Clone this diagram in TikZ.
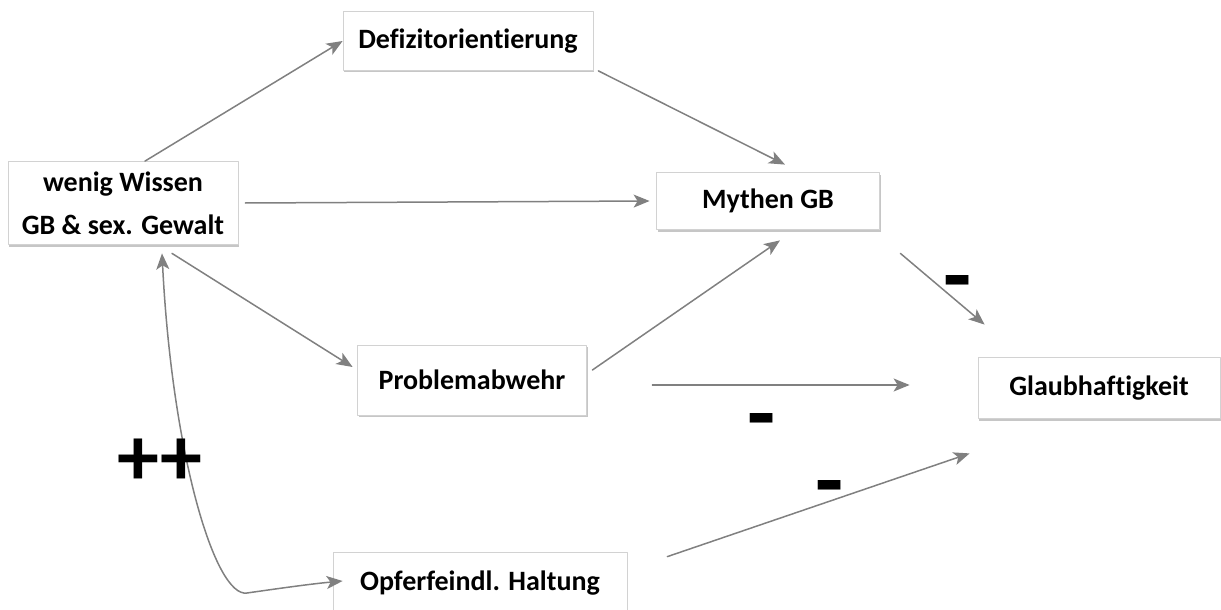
\documentclass[tikz,border=0pt]{standalone}
\usepackage{fontspec}
\setmainfont{Carlito}[Ligatures=NoCommon]
\usetikzlibrary{arrows.meta,shadows}
\begin{document}
\begin{tikzpicture}[x=0.5pt,y=0.5pt,line join=round,line cap=round,
    font=\fontsize{14}{21.5}\selectfont\bfseries,
    box/.style={draw=gray!35,line width=0.4pt,fill=white,inner sep=0pt,align=center,
        drop shadow={shadow xshift=0.5pt,shadow yshift=-1pt,opacity=0.45,fill=gray}},
    pfeil/.style={draw=gray,line width=0.75pt,-{Stealth[length=8pt,width=6.5pt,inset=2pt]}},
    zeichen/.style={font=\fontsize{46}{46}\selectfont\bfseries,inner sep=0pt}]
    \useasboundingbox (0,0) rectangle (1221,-610);
    % Kaesten
    \node[box,minimum width=125pt,minimum height=29.5pt] (defizit) at (468,-41) {Defizitorientierung};
    \node[box,minimum width=115pt,minimum height=41.5pt] (wissen) at (123,-203) {wenig Wissen\\GB \& sex. Gewalt};
    \node[box,minimum width=111.5pt,minimum height=28.5pt] (mythen) at (768,-201) {Mythen GB};
    \node[box,minimum width=114.5pt,minimum height=35pt] (abwehr) at (472,-380) {Problemabwehr};
    \node[box,minimum width=121pt,minimum height=30.5pt] (glaub) at (1099,-388) {Glaubhaftigkeit};
    \node[box,minimum width=147pt,minimum height=31pt] (opfer) at (480,-583) {Opferfeindl. Haltung};
    % Pfeile
    \draw[pfeil] ([xshift=11pt]wissen.north) -- (defizit.west);
    \draw[pfeil] ([xshift=2.5pt]defizit.south east) -- ([xshift=8.5pt,yshift=3.75pt]mythen.north);
    \draw[pfeil] ([xshift=3.5pt]wissen.east) -- ([xshift=-3.25pt]mythen.west);
    \draw[pfeil] ([xshift=24.5pt,yshift=-4.25pt]wissen.south) -- ([xshift=-2.25pt,yshift=6.5pt]abwehr.west);
    \draw[pfeil] ([xshift=2.75pt,yshift=5pt]abwehr.east) -- ([xshift=6pt,yshift=-5.25pt]mythen.south);
    \draw[pfeil] ([xshift=10.25pt,yshift=-11.75pt]mythen.south east) -- ([xshift=3.5pt,yshift=16.25pt]glaub.north west);
    \draw[pfeil] ([xshift=32.75pt,yshift=-2.5pt]abwehr.east) -- ([xshift=-34pt,yshift=1.5pt]glaub.west);
    \draw[pfeil] ([xshift=20pt,yshift=-2.5pt]opfer.north east) -- ([xshift=-4pt,yshift=-17.25pt]glaub.south west);
    \draw[pfeil,{Stealth[length=8pt,width=6.5pt,inset=2pt]}-{Stealth[length=8pt,width=6.5pt,inset=2pt]}]
        ([xshift=19.5pt,yshift=-4.25pt]wissen.south)
        ..controls (172,-453) and (215,-598).. (247,-593)
        ..controls (275,-589) and (310,-584).. ([xshift=5pt,yshift=1pt]opfer.west);
    % Vorzeichen
    \node[zeichen] (minus1) at (958,-291) {-};
    \node[zeichen] (minus2) at (762,-429) {-};
    \node[zeichen] (minus3) at (830,-496) {-};
    \node[zeichen,font=\fontsize{42}{42}\selectfont\bfseries] (plus) at (160,-462) {++};
\end{tikzpicture}
\end{document}
